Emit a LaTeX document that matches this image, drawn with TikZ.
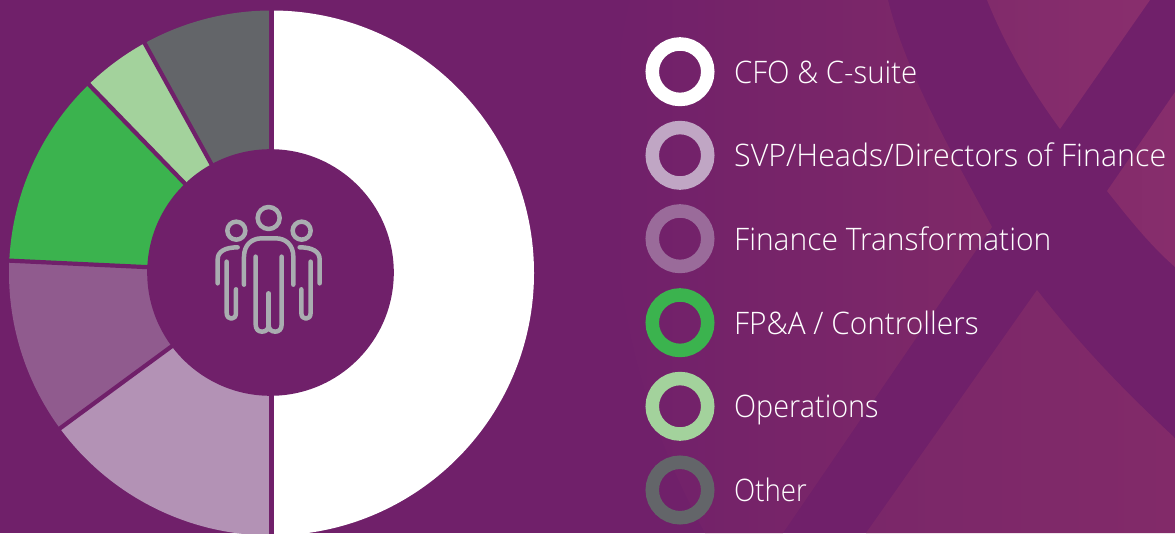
\documentclass[tikz,border=0pt]{standalone}
\usepackage{graphicx}
\usepackage{fontspec}
\newfontfamily\lgdfont[UprightFont=* Light,FakeStretch=0.93,Ligatures=NoCommon]{Open Sans}
\definecolor{bgp}{HTML}{70206A}
\definecolor{wedgeb}{HTML}{B392B5}
\definecolor{wedgec}{HTML}{905B8E}
\definecolor{wedged}{HTML}{3BB34E}
\definecolor{wedgee}{HTML}{A3D29C}
\definecolor{wedgef}{HTML}{636569}
\definecolor{ringb}{HTML}{C0A6C4}
\definecolor{ringc}{HTML}{9A6B9A}
\definecolor{iconc}{HTML}{A9ADB0}
\definecolor{xa}{HTML}{7C2769}
\definecolor{xa2}{HTML}{7F2968}
\definecolor{xb}{HTML}{812B6B}
\definecolor{xc}{HTML}{892E6D}
\definecolor{xd}{HTML}{842C6B}
\definecolor{xe}{HTML}{872D6C}
\definecolor{xf}{HTML}{7A2769}
\definecolor{xg}{HTML}{822A69}
\tikzset{
  ringnode/.style={circle,draw=#1,line width=13.5pt,minimum size=55.5pt,inner sep=0pt},
  lgdlabel/.style={anchor=base west,inner sep=0pt,text=white,font=\lgdfont\fontsize{31pt}{36pt}\selectfont},
  gapline/.style={draw=bgp,line width=4.2pt},
  iconline/.style={draw=iconc,line width=4.5pt,line cap=round,line join=round},
  imgframe/.style={x=1pt,y=-1pt,shift={(0pt,533pt)}}
}
\begin{document}
\begin{tikzpicture}[x=1pt,y=1pt]
\clip (0,0) rectangle (1175,533);
\fill[bgp] (0,0) rectangle (1175,533);
\begin{scope}[imgframe]
  \shade[left color=bgp,middle color=xa,right color=xa2] (630,0) .. controls (612,70) and (608,170) .. (618,258)
     .. controls (630,370) and (665,460) .. (705,533) -- (783,533) -- (992,227)
     .. controls (950,150) and (905,70) .. (888,0) -- cycle;
  \shade[left color=xb,right color=xc] (987,0) .. controls (1005,45) and (1030,88) .. (1060,129) -- (1150,0) -- cycle;
  \shade[left color=xd,right color=xe] (1175,92) -- (1107,191) .. controls (1130,220) and (1150,245) .. (1175,267) -- cycle;
  \shade[left color=xf,right color=xg] (866,533) -- (1037,290) .. controls (1080,345) and (1125,392) .. (1175,438) -- (1175,533) -- cycle;
\end{scope}
% donut
\coordinate (ctr) at (271.5,260);
\foreach \a/\b/\c in {-90/90/white,90/118.9/wedgef,118.9/134.1/wedgee,134.1/177.3/wedged,177.3/216.3/wedgec,216.3/270/wedgeb}{
  \fill[\c] (ctr) -- ++(\a:262.5) arc[start angle=\a,end angle=\b,radius=262.5] -- cycle;
}
\foreach \a in {90,118.9,134.1,177.3,216.3,270}{
  \draw[gapline] (ctr) -- ++(\a:270);
}
\fill[bgp] (270.5,260.5) circle[radius=123.3];
% people icon, drawn in 3x units of the crop at (190,190)
\begin{scope}[x=0.3333pt,y=-0.3333pt,shift={(190pt,343pt)}]
  \draw[iconline] (236,84) circle[radius=33];
  \draw[iconline] (139,122) circle[radius=27];
  \draw[iconline] (335,122) circle[radius=27];
  \draw[iconline] (162,284) -- (162,200) .. controls (162,165) and (185,145) .. (215,145) -- (257,145) .. controls (287,145) and (310,165) .. (310,200) -- (310,284);
  \draw[iconline] (197,200) -- (197,403) .. controls (197,418) and (205,425) .. (216,425) .. controls (228,425) and (236,418) .. (236,405) .. controls (236,418) and (244,425) .. (256,425) .. controls (267,425) and (275,418) .. (275,403) -- (275,200);
  \draw[iconline] (236,310) -- (236,405);
  \draw[iconline] (83,280) -- (83,208) .. controls (83,185) and (105,172) .. (143,172);
  \draw[iconline] (110,215) -- (110,368) .. controls (110,380) and (116,386) .. (124,386) .. controls (132,386) and (138,380) .. (138,368) -- (138,298);
  \draw[iconline] (389,280) -- (389,208) .. controls (389,185) and (367,172) .. (329,172);
  \draw[iconline] (362,215) -- (362,368) .. controls (362,380) and (356,386) .. (348,386) .. controls (340,386) and (334,380) .. (334,368) -- (334,298);
\end{scope}
% legend
\foreach \n/\y/\c/\f/\t in {a/461.3/white/1.02/{CFO \& C-suite},b/377.7/ringb/1.054/{SVP/Heads/Directors of Finance},c/294.3/ringc/1.04/{Finance Transformation},d/210.3/wedged/1.034/{FP\&A / Controllers},e/126.7/wedgee/1.0/{Operations},f/43/wedgef/0.96/{Other}}{
  \node[ringnode=\c] (ring\n) at (680,\y) {};
  \node[lgdlabel] (label\n) at (734,\y-11.5) {\scalebox{\f}[1]{\t}};
}
\end{tikzpicture}
\end{document}
